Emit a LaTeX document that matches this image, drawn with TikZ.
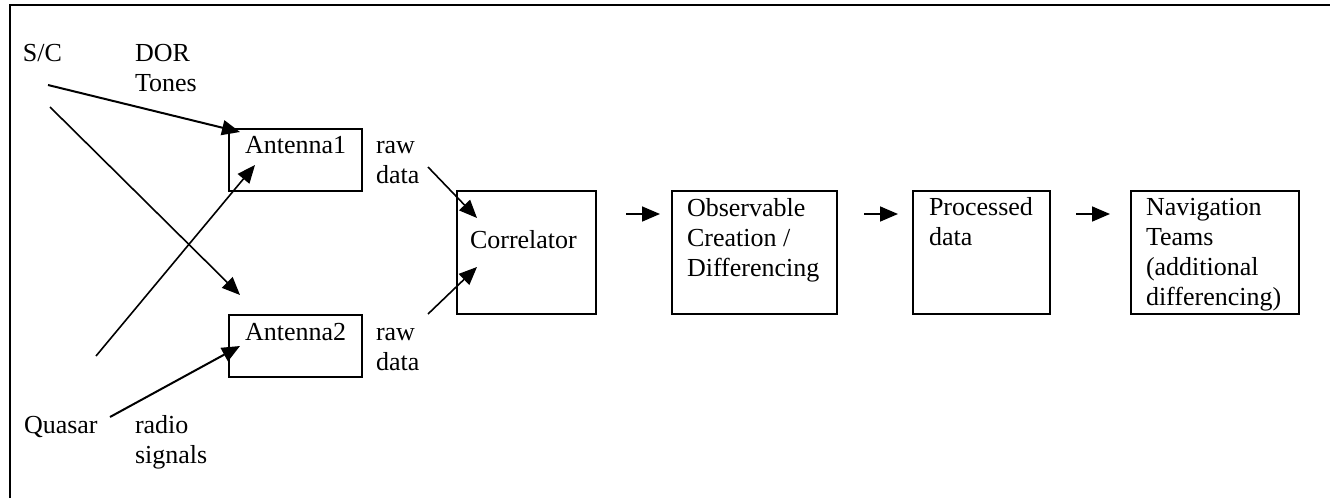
\documentclass[tikz,border=0pt]{standalone}
\usepackage{fontspec}
\setmainfont{Liberation Serif}
\usetikzlibrary{arrows.meta}
\begin{document}
\begin{tikzpicture}[x=1pt,y=-1pt,
  every node/.style={inner sep=0pt,outer sep=0pt},
  box/.style={draw,line width=2.5pt},
  lbl/.style={anchor=base west,font=\fontsize{26}{30}\selectfont,align=left},
  arr/.style={line width=1.6pt,-{Triangle[length=18pt,width=15pt]}},
  frame/.style={line width=2.2pt}]
\useasboundingbox (0,0) rectangle (1330,498);
\draw[frame] (10,498) -- (10,5) -- (1330,5);
% boxes
\node[box,minimum width=133pt,minimum height=62pt] (ant1) at (295.5,160) {};
\node[box,minimum width=133pt,minimum height=62pt] (ant2) at (295.5,346) {};
\node[box,minimum width=139pt,minimum height=123pt] (corr) at (526.5,252.5) {};
\node[box,minimum width=165pt,minimum height=123pt] (obs) at (754.5,252.5) {};
\node[box,minimum width=137pt,minimum height=123pt] (proc) at (981.5,252.5) {};
\node[box,minimum width=168pt,minimum height=123pt] (nav) at (1215,252.5) {};
% texts in boxes (base = baseline of last line)
\node[lbl] (tant1) at (245,153) {Antenna1};
\node[lbl] (tant2) at (245,340) {Antenna2};
\node[lbl] (tcorr) at (470,248) {Correlator};
\node[lbl] (tobs) at (687,276) {Observable\\Creation /\\Differencing};
\node[lbl] (tproc) at (929,245) {Processed\\data};
\node[lbl] (tnav) at (1146,305) {Navigation\\Teams\\(additional\\differencing)};
% outer labels
\node[lbl] (sc) at (23,61) {S/C};
\node[lbl] (dor) at (135,91) {DOR\\Tones};
\node[lbl] (raw1) at (376,183) {raw\\data};
\node[lbl] (raw2) at (376,370) {raw\\data};
\node[lbl] (quasar) at (24,433) {Quasar};
\node[lbl] (radio) at (135,463) {radio\\signals};
% coordinates
\coordinate (s1) at (48,85);
\coordinate (e1) at (240,132);
\coordinate (s2) at (50,107);
\coordinate (e2) at (240,295);
\coordinate (s3) at (96,356);
\coordinate (e3) at (255,165);
\coordinate (s4) at (110,417);
\coordinate (e4) at (240,346);
\coordinate (s5) at (428,167);
\coordinate (e5) at (477,218);
\coordinate (s6) at (428,314);
\coordinate (e6) at (477,267);
\coordinate (s7) at (626,214);
\coordinate (e7) at (660,214);
\coordinate (s8) at (864,214);
\coordinate (e8) at (898,214);
\coordinate (s9) at (1076,214);
\coordinate (e9) at (1110,214);
\draw[arr,line width=2pt] (s1) -- (e1);
\draw[arr] (s2) -- (e2);
\draw[arr] (s3) -- (e3);
\draw[arr,line width=2pt] (s4) -- (e4);
\draw[arr] (s5) -- (e5);
\draw[arr] (s6) -- (e6);
\draw[arr] (s7) -- (e7);
\draw[arr] (s8) -- (e8);
\draw[arr] (s9) -- (e9);
\end{tikzpicture}
\end{document}
